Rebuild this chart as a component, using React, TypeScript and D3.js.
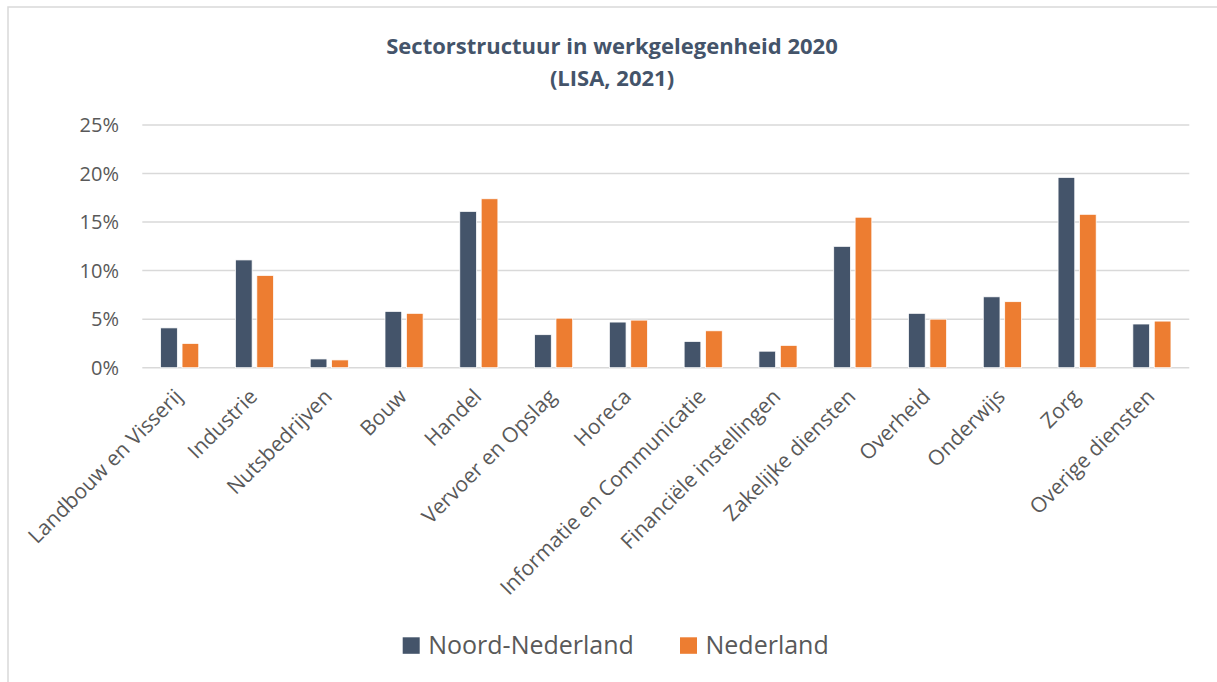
import React from "react";
import * as d3 from "d3";

const categories = [
  "Landbouw en Visserij",
  "Industrie",
  "Nutsbedrijven",
  "Bouw",
  "Handel",
  "Vervoer en Opslag",
  "Horeca",
  "Informatie en Communicatie",
  "Financiële instellingen",
  "Zakelijke diensten",
  "Overheid",
  "Onderwijs",
  "Zorg",
  "Overige diensten",
];
const seriesNames = ["Noord-Nederland", "Nederland"];
const noordNederland = [4.1, 11.1, 0.9, 5.8, 16.1, 3.4, 4.7, 2.7, 1.7, 12.5, 5.6, 7.3, 19.6, 4.5];
const nederland = [2.5, 9.5, 0.8, 5.6, 17.4, 5.1, 4.9, 3.8, 2.3, 15.5, 5.0, 6.8, 15.8, 4.8];
const yTicks = [0, 5, 10, 15, 20, 25];
const colors = ["#44546A", "#ED7D31"];

const W = 1217;
const H = 682;
const FONT = "'Open Sans', sans-serif";

export default function App() {
  const x0 = d3.scaleBand<string>().domain(categories).range([142.3, 1189.3]).padding(0);
  const groupW = 38.1;
  const bw0 = x0.bandwidth();
  const x1 = d3
    .scaleBand<string>()
    .domain(seriesNames)
    .range([(bw0 - groupW) / 2, (bw0 + groupW) / 2])
    .paddingInner(0.22)
    .paddingOuter(0);
  const y = d3.scaleLinear().domain([0, 25]).range([367.7, 125]);
  const seriesValues = [noordNederland, nederland];

  return (
    <svg
      width={W}
      height={H}
      style={{ position: "absolute", left: 0, top: 0, background: "#fff" }}
      fontFamily={FONT}
    >
      <rect x={8} y={7} width={W + 20} height={H + 20} fill="#fff" stroke="#D9D9D9" strokeWidth={1.5} />
      <text x={612} y={54} textAnchor="middle" fontSize={22} fontWeight={700} fill="#44546A">
        Sectorstructuur in werkgelegenheid 2020
      </text>
      <text x={612} y={86} textAnchor="middle" fontSize={22} fontWeight={700} fill="#44546A">
        (LISA, 2021)
      </text>
      {yTicks.map((t) => (
        <g key={t}>
          <line x1={142.3} x2={1189.3} y1={y(t)} y2={y(t)} stroke="#D9D9D9" strokeWidth={1.5} />
          <text x={119} y={y(t)} dy="0.36em" textAnchor="end" fontSize={20} fill="#595959">
            {t}%
          </text>
        </g>
      ))}
      {categories.map((c, i) => (
        <g key={c} transform={`translate(${x0(c)},0)`}>
          {seriesNames.map((s, j) => (
            <rect
              key={s}
              x={x1(s)}
              width={x1.bandwidth()}
              y={y(seriesValues[j][i])}
              height={y(0) - y(seriesValues[j][i])}
              fill={colors[j]}
              stroke="#fff"
              strokeWidth={0.75}
            />
          ))}
        </g>
      ))}
      {categories.map((c) => {
        const cx = (x0(c) as number) + bw0 / 2 + 4;
        const cy = 398;
        return (
          <text
            key={c}
            transform={`translate(${cx},${cy}) rotate(-45)`}
            textAnchor="end"
            fontSize={21}
            fill="#595959"
          >
            {c}
          </text>
        );
      })}
      {seriesNames.map((s, j) => {
        const lx = [402.7, 680][j];
        return (
          <g key={s}>
            <rect x={lx} y={637.3} width={17} height={16.5} fill={colors[j]} />
            <text x={lx + 25.5} y={654} fontSize={25} fill="#595959">
              {s}
            </text>
          </g>
        );
      })}
    </svg>
  );
}
